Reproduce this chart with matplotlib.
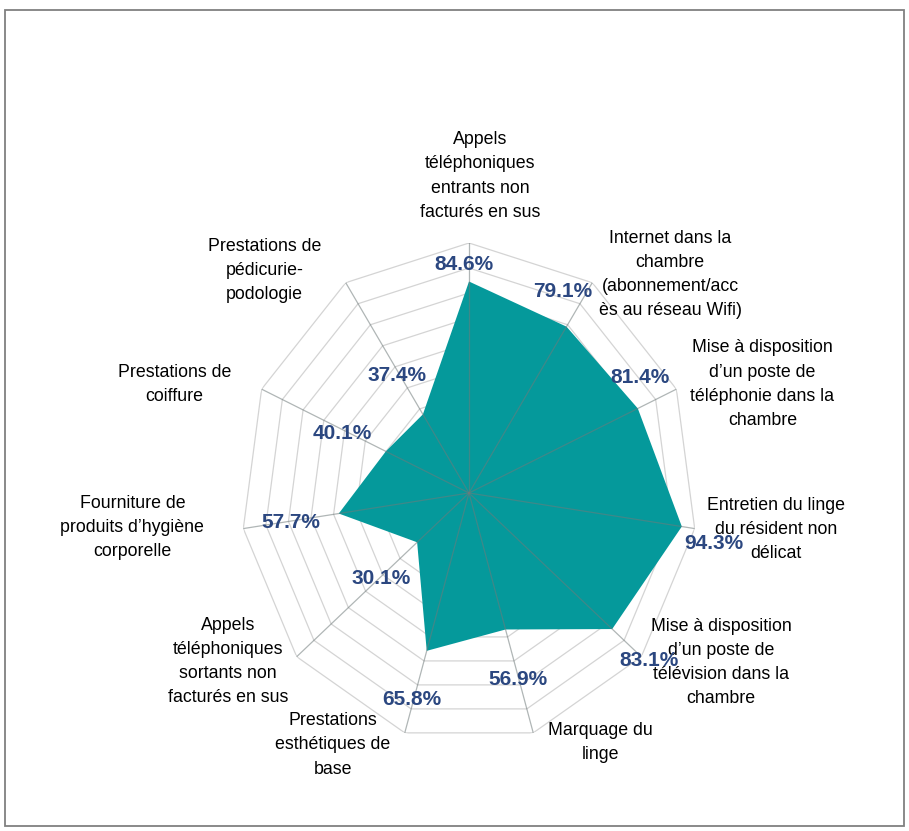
import numpy as np
import matplotlib
matplotlib.use("Agg")
import matplotlib.pyplot as plt
from matplotlib.patches import Rectangle

plt.rcParams['font.family'] = ['Liberation Sans', 'DejaVu Sans']

categories = [
    "Appels\ntéléphoniques\nentrants non\nfacturés en sus",
    "Internet dans la\nchambre\n(abonnement/acc\nès au réseau Wifi)",
    "Mise à disposition\nd’un poste de\ntéléphonie dans la\nchambre",
    "Entretien du linge\ndu résident non\ndélicat",
    "Mise à disposition\nd’un poste de\ntélévision dans la\nchambre",
    "Marquage du\nlinge",
    "Prestations\nesthétiques de\nbase",
    "Appels\ntéléphoniques\nsortants non\nfacturés en sus",
    "Fourniture de\nproduits d’hygiène\ncorporelle",
    "Prestations de\ncoiffure",
    "Prestations de\npédicurie-\npodologie",
]
values = [84.6, 79.1, 81.4, 94.3, 83.1, 56.9, 65.8, 30.1, 57.7, 40.1, 37.4]

# label offsets in pixels (dx right, dy down) from outer vertex / data point
cat_offsets = [(11, -67), (78, -8), (86, -5), (81, 1), (80, 6), (67, 10),
               (-72, 12), (-69, 5), (-111, -1), (-87, -5), (-81, -12)]
val_offsets = [(-5, -17), (-4, -35), (2, -31), (32, 17), (37, 31), (12, 50),
               (-15, 49), (-36, 36), (-48, 9), (-44, -18), (-26, -39)]

teal = '#05999B'
navy = '#2B4780'

n = len(categories)
theta = np.arange(n) * 2 * np.pi / n
r = np.array(values) / 100.0

fig = plt.figure(figsize=(9.09, 8.31), dpi=100)
fig.patches.append(Rectangle((5 / 909, 5 / 831), 899 / 909, 816 / 831,
                             transform=fig.transFigure, fill=False,
                             edgecolor='#808080', linewidth=1.3))

ax = fig.add_axes([241 / 909, 88 / 831, 456 / 909, 500 / 831], projection='polar')
ax.set_aspect('auto')
ax.set_theta_zero_location('N')
ax.set_theta_direction(-1)
ax.set_ylim(0, 1)
ax.grid(False)
ax.spines['polar'].set_visible(False)
ax.set_xticks([])
ax.set_yticks([])
ax.patch.set_alpha(0)

ring_t = np.append(theta, theta[0])
for lvl in np.arange(0.1, 1.01, 0.1):
    ax.plot(ring_t, [lvl] * (n + 1), color='#d4d4d4', lw=0.9, zorder=1)

ax.fill(ring_t, np.append(r, r[0]), color=teal, zorder=2, lw=0)

for t in theta:
    ax.plot([t, t], [0, 1], color='#6f7a7a', alpha=0.55, lw=0.9, zorder=3)

k = 72 / 100
for t, lab, (dx, dy) in zip(theta, categories, cat_offsets):
    ax.annotate(lab, xy=(t, 1.0), xytext=(dx * k, -dy * k),
                textcoords='offset points', ha='center', va='center',
                fontsize=12.8, color='black', linespacing=1.55,
                annotation_clip=False, zorder=5)

for t, v, rv, (dx, dy) in zip(theta, values, r, val_offsets):
    ax.annotate(f"{v:.1f}%", xy=(t, rv), xytext=(dx * k, -dy * k),
                textcoords='offset points', ha='center', va='center',
                fontsize=15, fontweight='bold', color=navy,
                annotation_clip=False, zorder=6)

fig.savefig('out.png', dpi=100)
